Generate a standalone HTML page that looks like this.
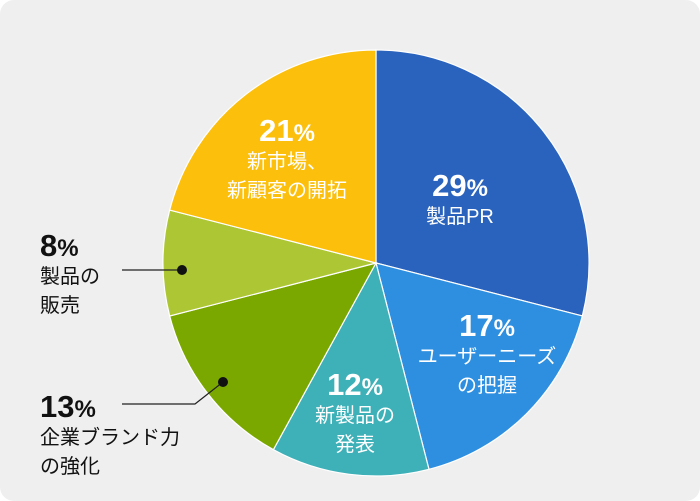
<!DOCTYPE html>
<html><head><meta charset="utf-8"><style>
html,body{margin:0;padding:0;background:#fff;}
svg{display:block;}
text{font-family:"Liberation Sans","Noto Sans CJK JP",sans-serif;}
.n{font-weight:bold;font-size:31px;}
.p{font-weight:bold;font-size:24px;}
.l{font-size:20px;}
</style></head><body>
<svg width="700" height="501" viewBox="0 0 700 501">
<rect x="0" y="0" width="700" height="501" rx="14" fill="#efefef"/>
<g id="slices"></g>
<g id="labels"></g>
<line x1="122" y1="270" x2="182" y2="270" stroke="#222" stroke-width="1.2"/>
<circle cx="182" cy="270" r="5" fill="#111"/>
<polyline points="122,404 195,404 223,382" fill="none" stroke="#222" stroke-width="1.2"/>
<circle cx="223" cy="382" r="5" fill="#111"/>
</svg>
<script>
const categories=["製品PR","ユーザーニーズの把握","新製品の発表","企業ブランド力の強化","製品の販売","新市場、新顧客の開拓"];
const values=[29,17,12,13,8,21];
const colors=["#2a63bd","#2e8fe0","#3eb0b8","#7aa800","#adc734","#fbbf0c"];
const cx=376,cy=263,R=213;
const NS="http://www.w3.org/2000/svg";
const total=values.reduce((a,b)=>a+b,0);
function pt(a,r){return [cx+r*Math.sin(a),cy-r*Math.cos(a)];}
const g=document.getElementById('slices');
let a0=0;
values.forEach((v,i)=>{
  const a1=a0+v/total*2*Math.PI;
  const p0=pt(a0,R),p1=pt(a1,R);
  const large=(a1-a0)>Math.PI?1:0;
  const path=document.createElementNS(NS,'path');
  path.setAttribute('d',`M${cx},${cy} L${p0[0]},${p0[1]} A${R},${R} 0 ${large} 1 ${p1[0]},${p1[1]} Z`);
  path.setAttribute('fill',colors[i]);
  path.setAttribute('stroke','#fff');
  path.setAttribute('stroke-width','1.2');
  
  
  g.appendChild(path);
  a0=a1;
});
// label layout: [x, y of number, lines, anchor, color]
const labelLines=[["製品PR"],["ユーザーニーズ","の把握"],["新製品の","発表"],["企業ブランド力","の強化"],["製品の","販売"],["新市場、","新顧客の開拓"]];
const lpos=[[460,196,'middle','#fff'],[487,336,'middle','#fff'],[355,395,'middle','#fff'],[40,417,'start','#111'],[40,256,'start','#111'],[287,141,'middle','#fff']];
const lg=document.getElementById('labels');
values.forEach((v,i)=>{
  const [x,y,anc,col]=lpos[i];
  const t=document.createElementNS(NS,'text');
  t.setAttribute('x',x);t.setAttribute('y',y);t.setAttribute('text-anchor',anc);t.setAttribute('fill',col);
  
  
  const s1=document.createElementNS(NS,'tspan');s1.setAttribute('class','n');s1.textContent=v;
  const s2=document.createElementNS(NS,'tspan');s2.setAttribute('class','p');s2.textContent='%';
  t.appendChild(s1);t.appendChild(s2);lg.appendChild(t);
  labelLines[i].forEach((ln,j)=>{
    const c=document.createElementNS(NS,'text');
    c.setAttribute('x',x);c.setAttribute('y',y+27+j*29);c.setAttribute('text-anchor',anc);c.setAttribute('fill',col);c.setAttribute('class','l');
    
    
    c.textContent=ln;lg.appendChild(c);
  });
});
</script>
</body></html>
